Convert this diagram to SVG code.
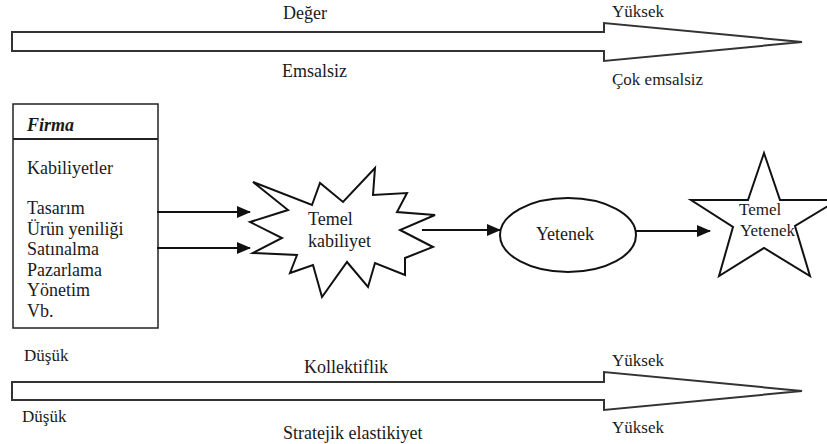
<svg xmlns="http://www.w3.org/2000/svg" width="827" height="444" viewBox="0 0 827 444" font-family="'Liberation Serif', 'DejaVu Serif', 'Times New Roman', serif">
<defs>
<style>
text{font-family:'Liberation Serif','DejaVu Serif','Times New Roman',serif;fill:#1a1a1a}
.ax{font-size:17px}
.axm{font-size:18px}
.t{font-size:18px}
.bigarrow{fill:#fff;stroke:#333;stroke-width:2;stroke-linejoin:miter}
.shape{fill:#fff;stroke:#111;stroke-width:2;stroke-linejoin:miter}
.conn{stroke:#111;stroke-width:2;fill:none}
</style>
<marker id="ah" viewBox="0 0 14 12" refX="13" refY="6" markerWidth="14" markerHeight="12" markerUnits="userSpaceOnUse" orient="auto">
<path d="M0,0 L14,6 L0,12 Z" fill="#111"/>
</marker>
</defs>
<rect width="827" height="444" fill="#fff"/>

<g id="axis-top">
<path class="bigarrow" d="M12,32 L604,32 L604,23 L802,42 L604,61 L604,51 L12,51 Z"/>
<text class="axm" x="283" y="19">Değer</text>
<text class="ax" x="612" y="17">Yüksek</text>
<text class="axm" x="282" y="77">Emsalsiz</text>
<text class="ax" x="612" y="85">Çok emsalsiz</text>
</g>

<g id="axis-bottom">
<path class="bigarrow" d="M12,382 L604,382 L604,372 L802,391 L604,410 L604,400 L12,400 Z"/>
<text class="ax" x="24" y="361">Düşük</text>
<text class="axm" x="304" y="373">Kollektiflik</text>
<text class="ax" x="612" y="366">Yüksek</text>
<text class="ax" x="22" y="422">Düşük</text>
<text class="axm" x="283" y="439">Stratejik elastikiyet</text>
<text class="ax" x="612" y="433">Yüksek</text>
</g>

<g id="firma">
<rect x="13" y="104" width="145" height="224" fill="#fff" stroke="#222" stroke-width="1.5"/>
<line x1="13" y1="139" x2="158" y2="139" stroke="#222" stroke-width="2"/>
<text class="t" x="27" y="131" font-weight="bold" font-style="italic">Firma</text>
<text class="t" x="27" y="174">Kabiliyetler</text>
<text class="t" x="27" y="214">Tasarım</text>
<text class="t" x="27" y="235">Ürün yeniliği</text>
<text class="t" x="27" y="255">Satınalma</text>
<text class="t" x="27" y="276">Pazarlama</text>
<text class="t" x="27" y="296">Yönetim</text>
<text class="t" x="27" y="317">Vb.</text>
</g>

<g id="temel-kabiliyet">
<path class="shape" d="M253,182 L312,205 L320,183 L343,202 L375,168 L373,195 L407,193 L397,212 L435,215 L400,230 L433,247 L405,258 L405,275 L375,263 L368,287 L347,262 L322,297 L313,265 L290,273 L297,255 L253,253 L282,238 L250,222 L288,210 Z"/>
<text class="t" x="308" y="225">Temel</text>
<text class="t" x="308" y="247">kabiliyet</text>
</g>

<g id="yetenek">
<ellipse class="shape" cx="568" cy="235" rx="68" ry="37" stroke-width="1.8"/>
<text class="t" x="565" y="240" text-anchor="middle">Yetenek</text>
</g>

<g id="temel-yetenek">
<path class="shape" d="M764,153 L780,200 L838,200 L795,226 L810,276 L764,248 L719,276 L733,227 L691,200 L748,200 Z"/>
<text class="ax" x="739" y="215">Temel</text>
<text class="ax" x="740" y="236">Yetenek</text>
</g>

<g id="connectors">
<line class="conn" x1="157" y1="212" x2="250" y2="212" marker-end="url(#ah)"/>
<line class="conn" x1="157" y1="248" x2="250" y2="248" marker-end="url(#ah)"/>
<line class="conn" x1="422" y1="230" x2="500" y2="230" stroke-width="2.8" marker-end="url(#ah)"/>
<line class="conn" x1="636" y1="231" x2="710" y2="231" marker-end="url(#ah)"/>
</g>
</svg>
